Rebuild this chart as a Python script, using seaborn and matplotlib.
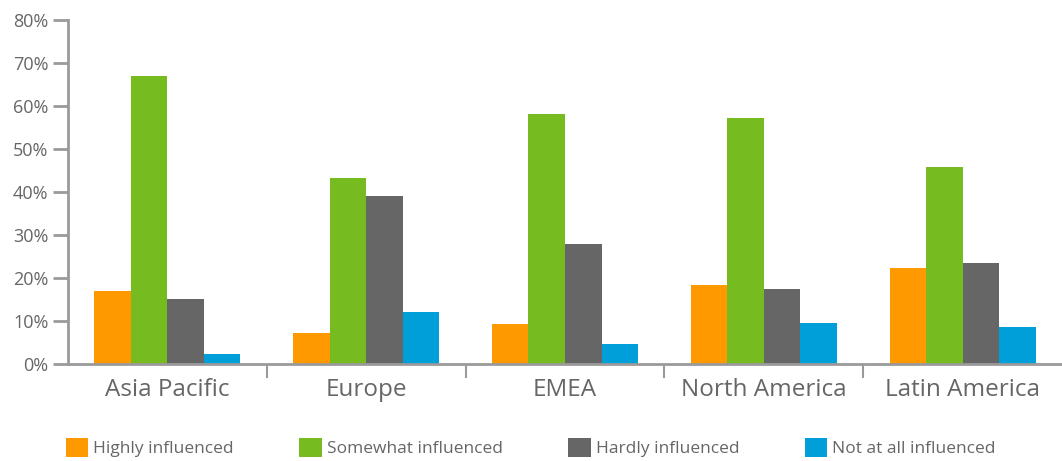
import matplotlib
matplotlib.use("Agg")
import matplotlib.pyplot as plt
from matplotlib.patches import Patch
import seaborn as sns
import pandas as pd

regions = ["Asia Pacific", "Europe", "EMEA", "North America", "Latin America"]
series = ["Highly influenced", "Somewhat influenced", "Hardly influenced", "Not at all influenced"]
highly = [17.0, 7.1, 9.3, 18.4, 22.3]
somewhat = [67.0, 43.2, 58.2, 57.1, 45.9]
hardly = [15.2, 39.0, 27.8, 17.4, 23.6]
not_at_all = [2.3, 12.2, 4.6, 9.5, 8.5]
y_ticks = [0, 10, 20, 30, 40, 50, 60, 70, 80]

colors = ["#FF9900", "#76BC21", "#666666", "#009FDA"]
text_color = "#666666"
axis_color = "#9a9a9a"

rows = []
for name, vals in zip(series, [highly, somewhat, hardly, not_at_all]):
    for reg, v in zip(regions, vals):
        rows.append({"region": reg, "series": name, "value": v})
df = pd.DataFrame(rows)

sns.set_theme(style="white")
plt.rcParams["font.family"] = ["Open Sans", "DejaVu Sans"]

fig = plt.figure(figsize=(10.62, 4.61), dpi=100)
ax = fig.add_axes([68 / 1062, 1 - 364 / 461, (1062 - 68) / 1062, (364 - 20) / 461])

sns.barplot(data=df, x="region", y="value", hue="series", order=regions,
            hue_order=series, palette=colors, width=0.735, linewidth=0,
            saturation=1, ax=ax, legend=False)

ax.set_xlim(-0.5, len(regions) - 0.5)
ax.set_ylim(0, 80)
ax.set_yticks(y_ticks)
ax.set_yticklabels([f"{t}%" for t in y_ticks])
ax.set_xlabel("")
ax.set_ylabel("")

# category boundary ticks on the x axis, labels centred under each group
ax.set_xticks([i + 0.5 for i in range(len(regions) - 1)], minor=False)
ax.set_xticklabels([])
ax.set_xticks(range(len(regions)), minor=True)
ax.set_xticklabels(regions, minor=True)
ax.tick_params(axis="x", which="major", direction="out", length=10, width=1.5,
               color=axis_color, bottom=True)
ax.tick_params(axis="x", which="minor", length=0, labelsize=17.5,
               labelcolor=text_color, pad=10)
ax.tick_params(axis="y", direction="out", length=11, width=2, color=axis_color,
               labelsize=13, labelcolor=text_color, left=True, pad=3)

for side in ["top", "right"]:
    ax.spines[side].set_visible(False)
for side in ["left", "bottom"]:
    ax.spines[side].set_color(axis_color)
    ax.spines[side].set_linewidth(2)

handles = [Patch(facecolor=c, edgecolor="none", label=s) for c, s in zip(colors, series)]
fig.legend(handles=handles, loc="lower left", bbox_to_anchor=(50 / 1062, -0.025),
           ncol=4, frameon=False, fontsize=12.5, labelcolor=text_color,
           handlelength=1.3, handleheight=1.3, handletextpad=0.3,
           columnspacing=3.75)

fig.savefig("out.png", dpi=100)
